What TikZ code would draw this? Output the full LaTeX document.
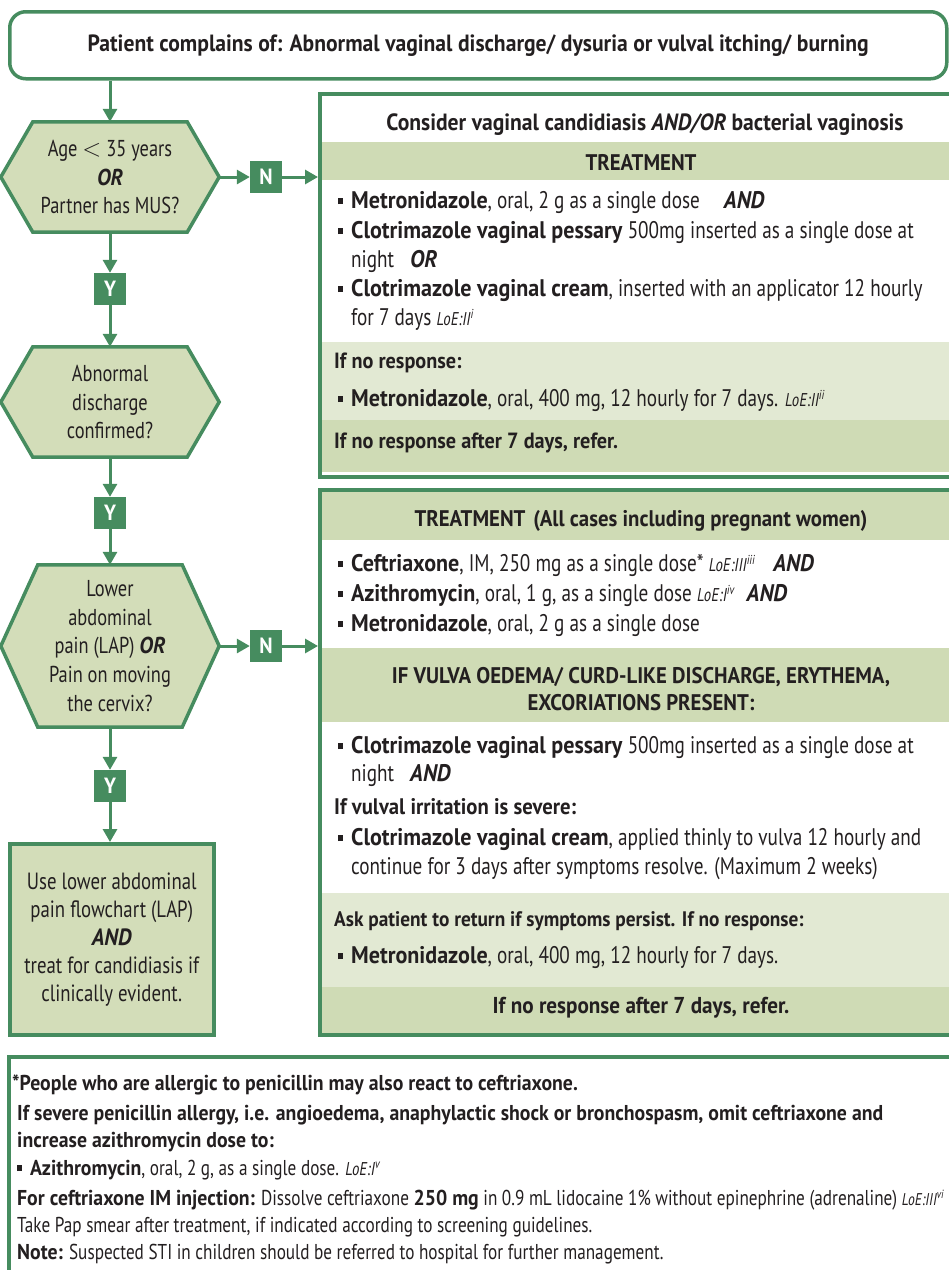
\documentclass[tikz,border=0pt]{standalone}
\usepackage{fontspec}
\setmainfont{PT Sans}[UprightFeatures={FakeStretch=0.8}, ItalicFeatures={FakeStretch=0.8},
  BoldFeatures={FakeStretch=0.92}, BoldItalicFeatures={FakeStretch=0.92}]
\usetikzlibrary{arrows.meta,backgrounds,calc}
\definecolor{G}{RGB}{70,140,95}
\definecolor{BD}{RGB}{207,219,181}
\definecolor{BL}{RGB}{226,233,211}
\definecolor{HF}{RGB}{211,221,185}
\definecolor{TX}{RGB}{35,31,32}
\newcommand\fsz[2]{\fontsize{#1}{#2}\selectfont}
\newcommand\bul{\makebox[13pt][l]{\rule[4pt]{5pt}{6pt}}}
\newcommand\loe[2]{{\fsz{18.5}{18}\itshape LoE:#1\textsuperscript{#2}}}
\newcommand\bi[1]{\textbf{\textit{#1}}}
\tikzset{
  txt/.style={inner sep=0pt, font=\fsz{24}{28}, text=TX},
  hd/.style={inner sep=0pt, font=\bfseries\fsz{22.6}{28}, text=TX},
  ftxt/.style={inner sep=0pt, font=\fsz{21.5}{26}, text=TX},
  boxst/.style={draw=G, line width=3.5pt, inner sep=0pt, anchor=north west},
  hexn/.style={inner sep=0pt, align=center, font=\fsz{23}{28.7}, text=TX},
  hexline/.style={draw=G, line width=3.5pt, fill=HF, line join=miter},
  ynbox/.style={fill=G, text=white, font=\bfseries\fsz{22}{22}, minimum size=32pt, inner sep=0pt},
  arr/.style={draw=G, line width=3pt, -{Triangle[length=13pt,width=14pt]}},
}
\newcommand\tl[4]{\node[txt,anchor=base west] (#1) at (#2,#3) {#4};}
\newcommand\fl[4]{\node[ftxt,anchor=base west] (#1) at (#2,#3) {#4};}
\begin{document}
\begin{tikzpicture}[x=1pt,y=-1pt]
\useasboundingbox (0,0) rectangle (949,1270);
\clip (0,0) rectangle (949,1270);

% top box
\node[boxst, rounded corners=16pt, minimum width=937pt, minimum height=67pt,
      font=\bfseries\fsz{23.5}{30}, text=TX] (top) at (8,10)
  {Patient complains of: Abnormal vaginal discharge/ dysuria or vulval itching/ burning};

% hexagons (text nodes)
\node[hexn, minimum width=218pt, minimum height=110pt] (h1) at (110,177)
  {Age $<$ 35 years\\\bi{OR}\\Partner has MUS?};
\node[hexn, minimum width=218pt, minimum height=110pt] (h2) at (110,402)
  {Abnormal\\discharge\\confirmed?};
\node[hexn, minimum width=218pt, minimum height=162pt] (h3) at (110,646)
  {Lower\\abdominal\\pain (LAP) \bi{OR}\\Pain on moving\\the cervix?};
\begin{scope}[on background layer]
\foreach \h/\c in {h1/32,h2/32,h3/37}{
  \draw[hexline] (\h.west) -- ([xshift=\c pt]\h.north west) -- ([xshift=-\c pt]\h.north east)
    -- (\h.east) -- ([xshift=-\c pt]\h.south east) -- ([xshift=\c pt]\h.south west) -- cycle;
}
\end{scope}

% Y / N boxes
\node[ynbox] (y1) at (110,289) {Y};
\node[ynbox] (y2) at (110,513) {Y};
\node[ynbox] (y3) at (110,786) {Y};
\node[ynbox] (n1) at (266,177) {N};
\node[ynbox] (n2) at (266,646) {N};

% left bottom box
\node[boxst, fill=HF, minimum width=204pt, minimum height=191pt, align=center,
      font=\fsz{23.5}{28}, text=TX] (lb) at (8,842)
  {Use lower abdominal\\pain flowchart (LAP)\\\bi{AND}\\treat for candidiasis if\\clinically evident.};

% right box 1 bands
\fill[BD] (318,142) rectangle (970,180);
\fill[BL] (318,342) rectangle (970,420);
\fill[BD] (318,420) rectangle (970,472);
\node[boxst, minimum width=660pt, minimum height=383pt] (rb1) at (318,92) {};

\node[hd, anchor=base, font=\bfseries\fsz{23.5}{28}] (r1a) at (645,130)
  {Consider vaginal candidiasis \textit{AND/OR} bacterial vaginosis};
\node[hd, anchor=base] (r1b) at (641,170) {TREATMENT};
\tl{r1c}{338}{208}{\bul\textbf{Metronidazole}, oral, 2 g as a single dose\hspace{24pt}\bi{AND}}
\tl{r1d}{338}{238}{\bul\textbf{Clotrimazole vaginal pessary} 500mg inserted as a single dose at}
\tl{r1e}{351}{267}{night\hspace{16pt}\bi{OR}}
\tl{r1f}{338}{296}{\bul\textbf{Clotrimazole vaginal cream}, inserted with an applicator 12 hourly}
\tl{r1g}{351}{325}{for 7 days \loe{II}{i}}
\node[txt, anchor=base west, font=\bfseries\fsz{22}{28}] (r1h) at (334,368) {If no response:};
\tl{r1i}{338}{406}{\bul\textbf{Metronidazole}, oral, 400 mg, 12 hourly for 7 days. \loe{II}{ii}}
\node[txt, anchor=base west, font=\bfseries\fsz{22}{28}] (r1j) at (334,448) {If no response after 7 days, refer.};

% right box 2 bands
\fill[BD] (318,488) rectangle (970,540);
\fill[BD] (318,648) rectangle (970,722);
\fill[BL] (318,893) rectangle (970,987);
\fill[BD] (318,987) rectangle (970,1033);
\node[boxst, minimum width=660pt, minimum height=545pt] (rb2) at (318,488) {};

\node[hd, anchor=base] (r2a) at (641,526)
  {TREATMENT\hspace{8pt}(All cases including pregnant women)};
\tl{r2b}{338}{571}{\bul\textbf{Ceftriaxone}, IM, 250 mg as a single dose* \loe{III}{iii}\hspace{18pt}\bi{AND}}
\tl{r2c}{338}{601}{\bul\textbf{Azithromycin}, oral, 1 g, as a single dose \loe{I}{iv}\hspace{12pt}\bi{AND}}
\tl{r2d}{338}{631}{\bul\textbf{Metronidazole}, oral, 2 g as a single dose}
\node[hd, anchor=base] (r2e) at (641,683)
  {IF VULVA OEDEMA/ CURD-LIKE DISCHARGE, ERYTHEMA,};
\node[hd, anchor=base] (r2f) at (641,710)
  {EXCORIATIONS PRESENT:};
\tl{r2g}{338}{753}{\bul\textbf{Clotrimazole vaginal pessary} 500mg inserted as a single dose at}
\tl{r2h}{351}{781}{night\hspace{16pt}\bi{AND}}
\node[txt, anchor=base west, font=\bfseries\fsz{22.5}{28}] (r2i) at (334,814) {If vulval irritation is severe:};
\tl{r2j}{338}{845}{\bul\textbf{Clotrimazole vaginal cream}, applied thinly to vulva 12 hourly and}
\tl{r2k}{351}{874}{continue for 3 days after symptoms resolve. (Maximum 2 weeks)}
\node[txt, anchor=base west, font=\bfseries\fsz{21}{28}] (r2l) at (334,926) {Ask patient to return if symptoms persist. If no response:};
\tl{r2m}{338}{963}{\bul\textbf{Metronidazole}, oral, 400 mg, 12 hourly for 7 days.}
\node[txt, anchor=base, font=\bfseries\fsz{23}{28}] (r2n) at (641,1013) {If no response after 7 days, refer.};

% bottom box
\node[boxst, minimum width=960pt, minimum height=260pt] (bb) at (7,1055) {};
\fl{f1}{12}{1090}{\textbf{*People who are allergic to penicillin may also react to ceftriaxone.}}
\fl{f2}{17}{1120}{\textbf{If severe penicillin allergy, i.e. angioedema, anaphylactic shock or bronchospasm, omit ceftriaxone and}}
\fl{f3}{17}{1147}{\textbf{increase azithromycin dose to:}}
\fl{f4}{17}{1175}{\bul\textbf{Azithromycin}, oral, 2 g, as a single dose. \loe{I}{v}}
\fl{f5}{17}{1205}{\textbf{For ceftriaxone IM injection:} Dissolve ceftriaxone \textbf{250 mg} in 0.9 mL lidocaine 1\% without epinephrine (adrenaline) {\fsz{17}{17}\itshape LoE:III\textsuperscript{vi}}}
\fl{f6}{17}{1232}{Take Pap smear after treatment, if indicated according to screening guidelines.}
\fl{f7}{17}{1259}{\textbf{Note:} Suspected STI in children should be referred to hospital for further management.}

% connectors
\draw[arr] (h1.north |- top.south) -- (h1.north);
\draw[arr] (h1.south) -- (y1.north);
\draw[arr] (y1.south) -- (h2.north);
\draw[arr] (h2.south) -- (y2.north);
\draw[arr] (y2.south) -- (h3.north);
\draw[arr] (h3.south) -- (y3.north);
\draw[arr] (y3.south) -- (y3.south |- lb.north);
\draw[arr] (h1.east) -- (n1.west);
\draw[arr] (n1.east) -- (n1.east -| rb1.west);
\draw[arr] (h3.east) -- (n2.west);
\draw[arr] (n2.east) -- (n2.east -| rb2.west);
\end{tikzpicture}
\end{document}
